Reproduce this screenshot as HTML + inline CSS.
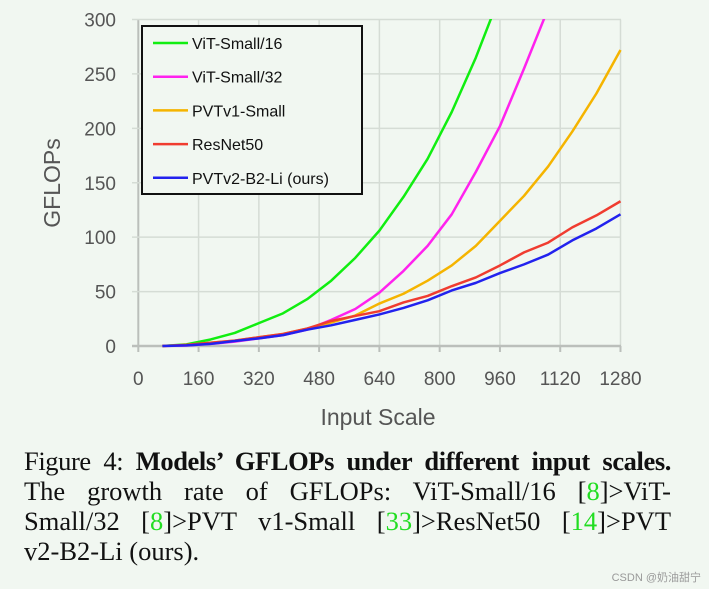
<!DOCTYPE html>
<html><head><meta charset="utf-8"><style>
body{margin:0;background:#f1f7f1;width:709px;height:589px;overflow:hidden;position:relative;font-family:"Liberation Sans",sans-serif}
#cap{position:absolute;left:24px;top:446px;width:647px;font-family:"Liberation Serif",serif;font-size:26.5px;line-height:30px;color:#111;text-align:justify}
#cap .l{display:block;text-align-last:justify;white-space:nowrap}
#cap .g{color:#22dd22}
#wm{position:absolute;right:8px;bottom:4px;font-size:11px;color:#999;font-family:"Liberation Sans","Noto Sans CJK SC",sans-serif}
</style></head><body>
<svg id="chart" width="709" height="440" style="position:absolute;left:0;top:0">
<defs><clipPath id="pc"><rect x="138" y="19" width="484" height="330"/></clipPath></defs>
<g id="grid"></g><g id="lines" clip-path="url(#pc)"></g><g id="axes"></g>
<text transform="translate(60,183) rotate(-90)" text-anchor="middle" font-size="23" fill="#555">GFLOPs</text>
<text x="378" y="425" text-anchor="middle" font-size="23" fill="#555">Input Scale</text>
<g id="legend"><rect x="142" y="26" width="220" height="168" fill="#f1f7f1" stroke="#111" stroke-width="2"/></g>
</svg>
<div id="cap">
<span class="l" style="letter-spacing:-0.4px">Figure 4: <b>Models’ GFLOPs under different input scales.</b></span>
<span class="l">The growth rate of GFLOPs: ViT-Small/16 [<span class="g">8</span>]&gt;ViT-</span>
<span class="l">Small/32 [<span class="g">8</span>]&gt;PVT v1-Small [<span class="g">33</span>]&gt;ResNet50 [<span class="g">14</span>]&gt;PVT</span>
<span style="display:block">v2-B2-Li (ours).</span>
</div>
<div id="wm">CSDN @奶油甜宁</div>
<script>
const scales=[64,128,192,256,320,384,448,512,576,640,704,768,832,896,960,1024,1088,1152,1216,1280];
const vitS16=[0,1.5,6,12,21,30,43,60,81,106,137,172,215,265,322,390,460,540,620,700];
const vitS32=[0,0.5,2,4,7,10,15,24,34,49,69,92,121,160,202,255,310,370,430,500];
const pvtv1=[0,1,3,5,8,11,16,21.5,28,39,48,60,74,92,115,138,165,197,232,272];
const resnet50=[0,1,3,5,8,11,16,23,27.6,32,40,46,55,63,74,86,95,109,120,133];
const pvtv2=[0,0.6,2,4.6,7,10,15,19,24,29,35,42,51,58,67,75,84,97,108,121];
const seriesNames=["ViT-Small/16","ViT-Small/32","PVTv1-Small","ResNet50","PVTv2-B2-Li (ours)"];
const seriesColors=["#11ee11","#ff22ee","#f5b400","#f03c30","#2222ee"];
const allSeries=[vitS16,vitS32,pvtv1,resnet50,pvtv2];
const xTicks=[0,160,320,480,640,800,960,1120,1280];
const yTicks=[0,50,100,150,200,250,300];
const NS="http://www.w3.org/2000/svg";
const X=v=>138.3+v*(620.5-138.3)/1280;
const Y=v=>346-v*(346-19.5)/300;
function mk(t,a,p){const e=document.createElementNS(NS,t);for(const k in a)e.setAttribute(k,a[k]);p.appendChild(e);return e;}
const grid=document.getElementById('grid'),axes=document.getElementById('axes'),lines=document.getElementById('lines'),leg=document.getElementById('legend');
xTicks.forEach(t=>{
 const l=mk('line',{x1:X(t),x2:X(t),y1:19.5,y2:346,stroke:t==0?'#bbbfbb':'#d5dcd5','stroke-width':t==0?2:1.5},grid);
 
 
 mk('line',{x1:X(t),x2:X(t),y1:346,y2:352,stroke:'#bbbfbb','stroke-width':2},axes);
 const tx=mk('text',{x:X(t),y:385,'text-anchor':'middle','font-size':19,fill:'#555'},axes);tx.textContent=t;
 
 
});
yTicks.forEach(t=>{
 const l=mk('line',{x1:132,x2:621,y1:Y(t),y2:Y(t),stroke:t==0?'#bbbfbb':'#d5dcd5','stroke-width':t==0?2.5:1.5},grid);
 
 
 const tx=mk('text',{x:116,y:Y(t)+7,'text-anchor':'end','font-size':19,fill:'#555'},axes);tx.textContent=t;
 
 
});
allSeries.forEach((s,i)=>{
 const p=mk('polyline',{points:s.map((v,j)=>X(scales[j])+','+Y(v)).join(' '),fill:'none',stroke:seriesColors[i],'stroke-width':2.5,'stroke-linejoin':'round'},lines);
 
 
 const y=43+i*33.7;
 mk('line',{x1:153,x2:188,y1:y,y2:y,stroke:seriesColors[i],'stroke-width':2.5},leg);
 const tx=mk('text',{x:192,y:y+6,'font-size':16,fill:'#111'},leg);tx.textContent=seriesNames[i];
 
 
});
</script>
</body></html>
